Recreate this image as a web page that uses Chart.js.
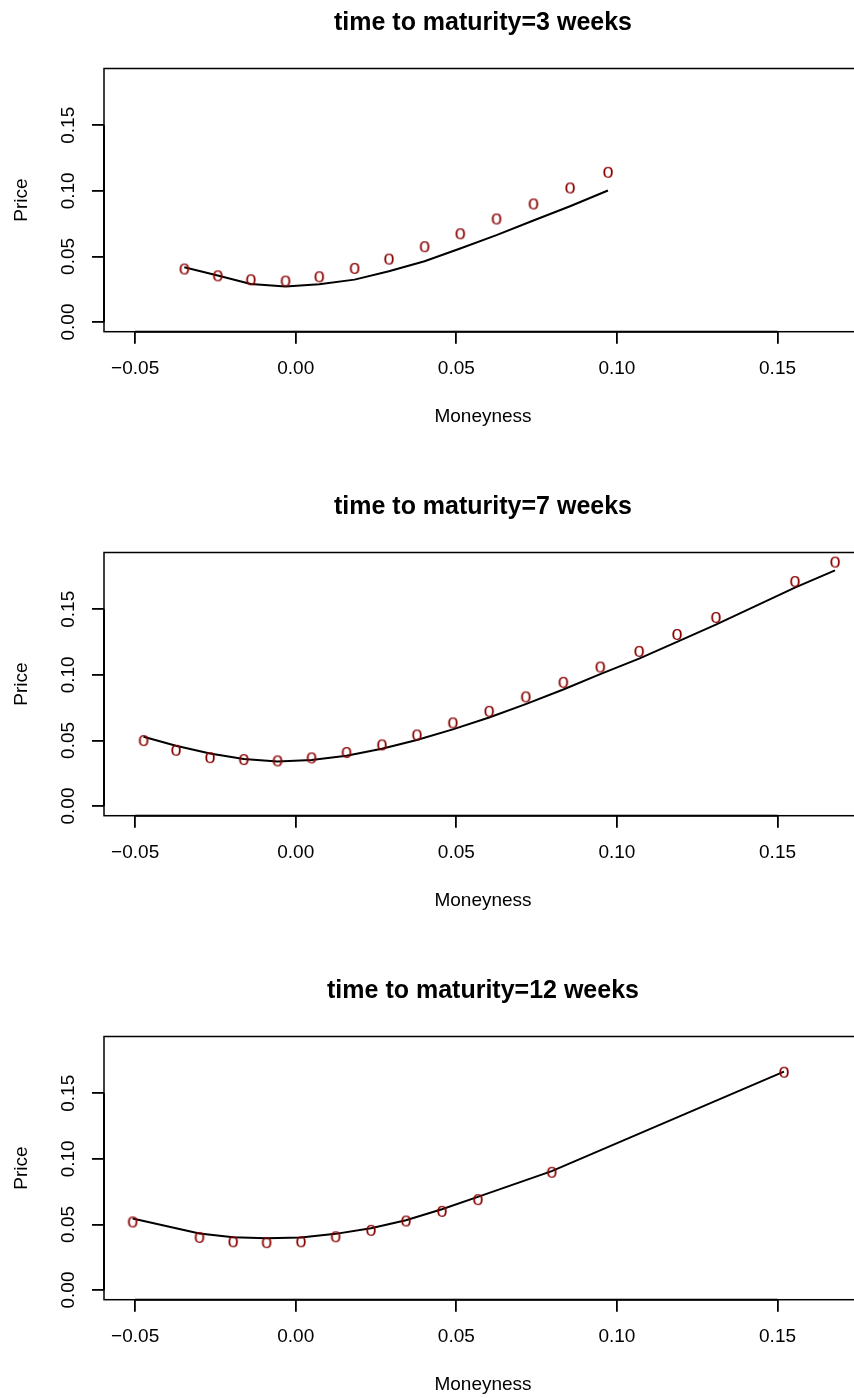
<!DOCTYPE html>
<html><head><meta charset="utf-8">
<script src="https://cdn.jsdelivr.net/npm/chart.js@4.4.1/dist/chart.umd.min.js"></script>
<style>
html,body{margin:0;padding:0;background:#fff;overflow:hidden;width:854px;height:1398px;position:relative;}
canvas{position:absolute;left:0;}
</style></head><body>
<canvas id="c1" width="880" height="430" style="top:0px"></canvas>
<canvas id="c2" width="880" height="430" style="top:484px"></canvas>
<canvas id="c3" width="880" height="430" style="top:968px"></canvas>
<script>
// ---- data ----
const panelTitles = ['time to maturity=3 weeks', 'time to maturity=7 weeks', 'time to maturity=12 weeks'];
const xTitle = 'Moneyness';
const yTitle = 'Price';
const xTicks = [-0.05, 0.00, 0.05, 0.10, 0.15];
const xTickLabels = ['\u22120.05', '0.00', '0.05', '0.10', '0.15'];
const yTicks = [0.00, 0.05, 0.10, 0.15];
const yTickLabels = ['0.00', '0.05', '0.10', '0.15'];
const xRange = [-0.0597, 0.1763];
const yRange = [-0.0074, 0.1933];

// 3 weeks
const m1   = [-0.0347, -0.0243, -0.0140, -0.0032, 0.0073, 0.0183, 0.0290, 0.0401, 0.0512, 0.0625, 0.0740, 0.0854, 0.0972];
const obs1 = [0.0400, 0.0348, 0.0318, 0.0308, 0.0341, 0.0405, 0.0476, 0.0570, 0.0669, 0.0782, 0.0896, 0.1018, 0.1138];
const fit1 = [0.0417, 0.0354, 0.0290, 0.0270, 0.0287, 0.0323, 0.0387, 0.0463, 0.0560, 0.0662, 0.0774, 0.0883, 0.1003];
// 7 weeks
const m2   = [-0.0474, -0.0373, -0.0267, -0.0162, -0.0057, 0.0049, 0.0158, 0.0268, 0.0377, 0.0489, 0.0602, 0.0716, 0.0833, 0.0948, 0.1069, 0.1187, 0.1308, 0.1554, 0.1679];
const obs2 = [0.0495, 0.0421, 0.0365, 0.0350, 0.0340, 0.0363, 0.0404, 0.0462, 0.0538, 0.0630, 0.0718, 0.0828, 0.0939, 0.1056, 0.1175, 0.1304, 0.1434, 0.1708, 0.1856];
const fit2 = [0.0528, 0.0459, 0.0401, 0.0358, 0.0340, 0.0350, 0.0383, 0.0436, 0.0503, 0.0584, 0.0675, 0.0777, 0.0888, 0.1005, 0.1124, 0.1251, 0.1383, 0.1665, 0.1797];
// 12 weeks
const m3   = [-0.0508, -0.0300, -0.0195, -0.0091, 0.0016, 0.0124, 0.0234, 0.0343, 0.0455, 0.0567, 0.0797, 0.1520];
const obs3 = [0.0515, 0.0397, 0.0364, 0.0357, 0.0364, 0.0402, 0.0451, 0.0522, 0.0596, 0.0685, 0.0894, 0.1657];
const fit3 = [0.0545, 0.0431, 0.0402, 0.0395, 0.0400, 0.0428, 0.0471, 0.0532, 0.0616, 0.0710, 0.0906, 0.1665];

// ---- styling ----
const FAMILY = '"Liberation Sans", Arial, Helvetica, sans-serif';
const LABEL_SIZE = 19;
const TITLE_SIZE = 25;
const MARKER_COLOR = '#8B0000';
Chart.defaults.font.family = FAMILY;
Chart.defaults.color = '#000';

// "o" character marker (R pch = "o")
function makeMarker() {
  const c = document.createElement('canvas');
  c.width = 16; c.height = 16;
  const g = c.getContext('2d');
  g.font = '20px ' + FAMILY;
  g.fillStyle = MARKER_COLOR;
  g.textAlign = 'center';
  g.textBaseline = 'alphabetic';
  g.fillText('o', 8, 8 + 0.26 * 20);
  return c;
}
const marker = makeMarker();

// width of y tick labels to place rotated labels
const mctx = document.createElement('canvas').getContext('2d');
mctx.font = LABEL_SIZE + 'px ' + FAMILY;
const yLabW = Math.max(...yTickLabels.map(t => mctx.measureText(t).width));
const yTickPad = 22.8 - yLabW / 2;

const boxPlugin = {
  id: 'rbox',
  afterDraw(chart) {
    const {ctx, chartArea: a, scales: {x, y}} = chart;
    ctx.save();
    ctx.strokeStyle = '#000';
    ctx.lineWidth = 1.5;
    ctx.strokeRect(a.left, a.top, a.right - a.left, a.bottom - a.top);
    ctx.lineWidth = 2;
    ctx.beginPath();
    ctx.moveTo(x.getPixelForValue(xTicks[0]), a.bottom);
    ctx.lineTo(x.getPixelForValue(xTicks[xTicks.length - 1]), a.bottom);
    ctx.moveTo(a.left, y.getPixelForValue(yTicks[0]));
    ctx.lineTo(a.left, y.getPixelForValue(yTicks[yTicks.length - 1]));
    ctx.stroke();
    ctx.restore();
  }
};

function makeChart(id, title, mx, obs, fit) {
  new Chart(document.getElementById(id), {
    type: 'scatter',
    data: {
      datasets: [
        {
          label: 'observed',
          data: mx.map((v, i) => ({x: v, y: obs[i]})),
          pointStyle: marker,
          pointRadius: 5,
          showLine: false,
          order: 0
        },
        {
          label: 'fit',
          data: mx.map((v, i) => ({x: v, y: fit[i]})),
          showLine: true,
          borderColor: '#000',
          borderWidth: 2,
          pointRadius: 0,
          tension: 0,
          fill: false,
          order: 1
        }
      ]
    },
    options: {
      responsive: false,
      animation: false,
      devicePixelRatio: 1,
      layout: {padding: {left: 0, right: 18, top: 0, bottom: 0}},
      plugins: {
        legend: {display: false},
        tooltip: {enabled: false},
        title: {
          display: true,
          text: title,
          fullSize: false,
          color: '#000',
          font: {size: TITLE_SIZE, weight: 'bold', family: FAMILY, lineHeight: 1.2},
          padding: {top: 8, bottom: 30.5}
        }
      },
      scales: {
        x: {
          type: 'linear',
          min: xRange[0],
          max: xRange[1],
          afterFit: s => { s.height = 98.3; },
          afterBuildTicks: s => { s.ticks = xTicks.map(v => ({value: v})); },
          ticks: {
            autoSkip: false,
            maxRotation: 0,
            minRotation: 0,
            padding: 14,
            color: '#000',
            font: {size: LABEL_SIZE, family: FAMILY},
            callback: (v, i) => xTickLabels[i]
          },
          grid: {display: true, drawOnChartArea: false, drawTicks: true, tickLength: 12, color: '#000', lineWidth: 1.8},
          border: {display: false},
          title: {display: true, text: xTitle, color: '#000', font: {size: LABEL_SIZE, family: FAMILY}, padding: {top: 0, bottom: 1.9}}
        },
        y: {
          type: 'linear',
          min: yRange[0],
          max: yRange[1],
          afterFit: s => { s.width = 104; },
          afterBuildTicks: s => { s.ticks = yTicks.map(v => ({value: v})); },
          ticks: {
            autoSkip: false,
            minRotation: 90,
            maxRotation: 90,
            crossAlign: 'center',
            padding: yTickPad,
            color: '#000',
            font: {size: LABEL_SIZE, family: FAMILY},
            callback: (v, i) => yTickLabels[i]
          },
          grid: {display: true, drawOnChartArea: false, drawTicks: true, tickLength: 12, color: '#000', lineWidth: 1.8},
          border: {display: false},
          title: {display: true, text: yTitle, color: '#000', font: {size: LABEL_SIZE, family: FAMILY}, padding: {top: 10, bottom: 0}}
        }
      }
    },
    plugins: [boxPlugin]
  });
}

makeChart('c1', panelTitles[0], m1, obs1, fit1);
makeChart('c2', panelTitles[1], m2, obs2, fit2);
makeChart('c3', panelTitles[2], m3, obs3, fit3);
</script>
</body></html>
